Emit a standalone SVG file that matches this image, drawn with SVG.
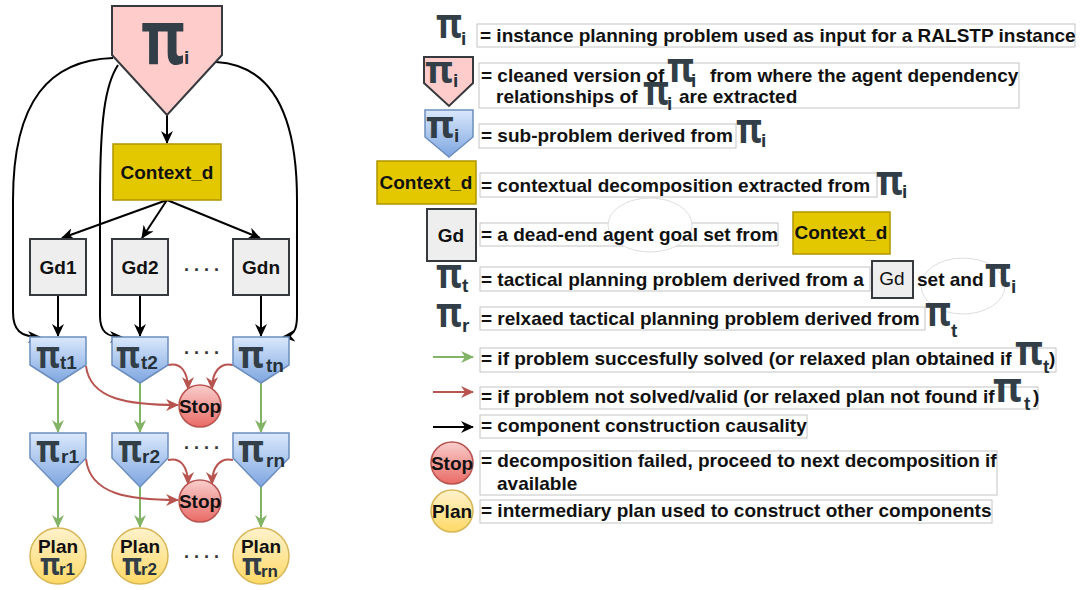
<svg xmlns="http://www.w3.org/2000/svg" width="1086" height="590" viewBox="0 0 1086 590">
  <defs>
    <linearGradient id="gBlue" x1="0" y1="0" x2="0" y2="1">
      <stop offset="0" stop-color="#dae8fc"/>
      <stop offset="1" stop-color="#7ea6e0"/>
    </linearGradient>
    <linearGradient id="gRed" x1="0" y1="0" x2="0" y2="1">
      <stop offset="0" stop-color="#f8cecc"/>
      <stop offset="1" stop-color="#ea6b66"/>
    </linearGradient>
    <linearGradient id="gYellow" x1="0" y1="0" x2="0" y2="1">
      <stop offset="0" stop-color="#fff2cc"/>
      <stop offset="1" stop-color="#ffd966"/>
    </linearGradient>
    <marker id="aBlack" viewBox="0 0 13 12" refX="12" refY="6" markerWidth="13" markerHeight="12" markerUnits="userSpaceOnUse" orient="auto">
      <path d="M0,0 L13,6 L0,12 L4,6 Z" fill="#000"/>
    </marker>
    <marker id="aGreen" viewBox="0 0 13 12" refX="12" refY="6" markerWidth="13" markerHeight="12" markerUnits="userSpaceOnUse" orient="auto">
      <path d="M0,0 L13,6 L0,12 L4,6 Z" fill="#82b366"/>
    </marker>
    <marker id="aRed" viewBox="0 0 13 12" refX="12" refY="6" markerWidth="13" markerHeight="12" markerUnits="userSpaceOnUse" orient="auto">
      <path d="M0,0 L13,6 L0,12 L4,6 Z" fill="#b85450"/>
    </marker>
  </defs>
  <style>
    .lbl { font-family: "Liberation Sans", Arial, sans-serif; font-weight: bold; font-size: 19px; fill: #111; }
    .mid { text-anchor: middle; }
    .sub { font-family: "Liberation Sans", Arial, sans-serif; font-weight: bold; font-size: 19px; fill: #26323a; }
    .sm { font-size: 17px; }
    .pi { font-family: "Noto Sans", "DejaVu Sans", sans-serif; font-weight: bold; fill: #333f48; }
    .dots { font-family: "Liberation Sans", Arial, sans-serif; font-weight: bold; font-size: 18px; fill: #333; }
    .box { fill: #fff; stroke: #c4c4c4; stroke-width: 1; }
    .pink { fill: #ffcccc; stroke: #36393d; stroke-width: 2; }
    .blue { fill: url(#gBlue); stroke: #6c8ebf; stroke-width: 1.5; }
    .ctx { fill: #e3c800; stroke: #b09500; stroke-width: 1.5; }
    .gd { fill: #eeeeee; stroke: #36393d; stroke-width: 2; }
    .stop { fill: url(#gRed); stroke: #b85450; stroke-width: 1.5; }
    .plan { fill: url(#gYellow); stroke: #d6b656; stroke-width: 1.5; }
    .cb { fill: none; stroke: #000; stroke-width: 2; marker-end: url(#aBlack); }
    .cg { fill: none; stroke: #82b366; stroke-width: 2; marker-end: url(#aGreen); }
    .cr { fill: none; stroke: #b85450; stroke-width: 2; marker-end: url(#aRed); }
    .cloud { fill: #fff; stroke: #dedede; stroke-width: 1; }
  </style>

  <!-- connectors -->
  <g id="connectors">
    <path class="cb" d="M167,115 L167,143"/>
    <path class="cb" d="M167,200 L62,238"/>
    <path class="cb" d="M167,200 L142,238"/>
    <path class="cb" d="M167,200 L260,238"/>
    <path class="cb" d="M58,295 L58,336"/>
    <path class="cb" d="M140,295 L140,336"/>
    <path class="cb" d="M261,295 L261,336"/>
    <path class="cb" d="M113,58 C50,60 13,100 13,200 L13,312 C13,330 20,337 40,337"/>
    <path class="cb" d="M118,65 C105,85 100,120 100,200 L100,316 C100,331 106,337 122,337"/>
    <path class="cb" d="M216,62 C270,65 297,110 297,200 L297,316 C297,331 293,336 283,337"/>
    <path class="cg" d="M58,383 L58,432"/>
    <path class="cg" d="M140,383 L140,432"/>
    <path class="cg" d="M261,383 L261,432"/>
    <path class="cg" d="M58,487 L58,527"/>
    <path class="cg" d="M140,487 L140,527"/>
    <path class="cg" d="M261,487 L261,527"/>
    <path class="cr" d="M86,366 C90,400 130,405 178,405"/>
    <path class="cr" d="M168,365 C181,362 188,372 188,389"/>
    <path class="cr" d="M233,365 C220,362 212,372 212,389"/>
    <path class="cr" d="M86,459 C90,495 130,500 178,500"/>
    <path class="cr" d="M168,460 C181,457 188,467 188,484"/>
    <path class="cr" d="M233,460 C220,457 212,467 212,484"/>
  </g>

  <!-- instance problem -->
  <g id="pi-i">
    <polygon class="pink" points="112,6 222,6 222,55 167,115 112,55"/>
    <text class="pi" x="141" y="64" font-size="75" textLength="44" lengthAdjust="spacingAndGlyphs">π</text>
    <text class="sub" x="184" y="64">i</text>
  </g>

  <g id="context-d">
    <rect class="ctx" x="113" y="144" width="108" height="56"/>
    <text class="lbl mid" x="167" y="179">Context_d</text>
  </g>

  <g id="gd1"><rect class="gd" x="30" y="239" width="56" height="56"/><text class="lbl mid" x="58" y="274">Gd1</text></g>
  <g id="gd2"><rect class="gd" x="112" y="239" width="56" height="56"/><text class="lbl mid" x="140" y="274">Gd2</text></g>
  <g id="gdn"><rect class="gd" x="233" y="239" width="56" height="56"/><text class="lbl mid" x="261" y="274">Gdn</text></g>
  <text class="dots" x="184" y="271">. . . .</text>

  <!-- tactical problems -->
  <g id="pt1">
    <polygon class="blue" points="30,337 86,337 86,365 58,383 30,365"/>
    <text class="pi" x="36" y="368" font-size="37" textLength="24" lengthAdjust="spacingAndGlyphs">π</text>
    <text class="sub" x="60" y="369">t1</text>
  </g>
  <g id="pt2">
    <polygon class="blue" points="112,337 168,337 168,365 140,383 112,365"/>
    <text class="pi" x="116" y="368" font-size="37" textLength="24" lengthAdjust="spacingAndGlyphs">π</text>
    <text class="sub" x="141" y="369">t2</text>
  </g>
  <g id="ptn">
    <polygon class="blue" points="233,337 289,337 289,365 261,383 233,365"/>
    <text class="pi" x="238" y="368" font-size="37" textLength="26" lengthAdjust="spacingAndGlyphs">π</text>
    <text class="sub" x="266" y="372">tn</text>
  </g>
  <text class="dots" x="184" y="354">. . . .</text>

  <g id="stop1">
    <circle class="stop" cx="200" cy="406" r="21"/>
    <text class="lbl mid" x="200" y="413">Stop</text>
  </g>

  <!-- relaxed problems -->
  <g id="pr1">
    <polygon class="blue" points="30,433 86,433 86,458 58,487 30,458"/>
    <text class="pi" x="36" y="462" font-size="37" textLength="24" lengthAdjust="spacingAndGlyphs">π</text>
    <text class="sub" x="61" y="463">r1</text>
  </g>
  <g id="pr2">
    <polygon class="blue" points="112,433 168,433 168,458 140,487 112,458"/>
    <text class="pi" x="118" y="462" font-size="37" textLength="24" lengthAdjust="spacingAndGlyphs">π</text>
    <text class="sub" x="142" y="463">r2</text>
  </g>
  <g id="prn">
    <polygon class="blue" points="233,433 289,433 289,458 261,487 233,458"/>
    <text class="pi" x="238" y="462" font-size="37" textLength="26" lengthAdjust="spacingAndGlyphs">π</text>
    <text class="sub" x="266" y="467">rn</text>
  </g>
  <text class="dots" x="184" y="449">. . . .</text>

  <g id="stop2">
    <circle class="stop" cx="200" cy="501" r="21"/>
    <text class="lbl mid" x="200" y="508">Stop</text>
  </g>

  <!-- plans -->
  <g id="plan1">
    <circle class="plan" cx="58" cy="556" r="28"/>
    <text class="lbl mid" x="58" y="553">Plan</text>
    <text class="pi" x="40" y="575" font-size="31" textLength="20" lengthAdjust="spacingAndGlyphs">π</text>
    <text class="sub sm" x="59" y="575">r1</text>
  </g>
  <g id="plan2">
    <circle class="plan" cx="140" cy="556" r="28"/>
    <text class="lbl mid" x="140" y="553">Plan</text>
    <text class="pi" x="122" y="575" font-size="31" textLength="20" lengthAdjust="spacingAndGlyphs">π</text>
    <text class="sub sm" x="141" y="575">r2</text>
  </g>
  <g id="plann">
    <circle class="plan" cx="261" cy="556" r="28"/>
    <text class="lbl mid" x="261" y="553">Plan</text>
    <text class="pi" x="242" y="575" font-size="31" textLength="20" lengthAdjust="spacingAndGlyphs">π</text>
    <text class="sub sm" x="261" y="577">rn</text>
  </g>
  <text class="dots" x="184" y="558">. . . .</text>

  <!-- legend -->
  <g id="legend">
    <!-- row 1 -->
    <text class="pi" x="436" y="38" font-size="42" textLength="26" lengthAdjust="spacingAndGlyphs">π</text>
    <text class="sub" x="461" y="45">i</text>
    <rect class="box" x="477" y="24" width="598" height="23"/>
    <text class="lbl" x="480" y="42">= instance planning problem used as input for a RALSTP instance</text>

    <!-- row 2 -->
    <polygon class="pink" points="424,57 473,57 473,83 449,106 424,83"/>
    <text class="pi" x="425" y="83" font-size="37" textLength="28" lengthAdjust="spacingAndGlyphs">π</text>
    <text class="sub" x="453" y="87">i</text>
    <rect class="box" x="479" y="63" width="540" height="45"/>
    <text class="lbl" x="481" y="82">= cleaned version of</text>
    <text class="pi" x="667" y="82" font-size="42" textLength="27" lengthAdjust="spacingAndGlyphs">π</text>
    <text class="sub" x="691" y="87">i</text>
    <text class="lbl" x="710" y="82">from where the agent dependency</text>
    <text class="lbl" x="496" y="103">relationships of</text>
    <text class="pi" x="643" y="105" font-size="42" textLength="26" lengthAdjust="spacingAndGlyphs">π</text>
    <text class="sub" x="667" y="110">i</text>
    <text class="lbl" x="679" y="103">are extracted</text>

    <!-- row 3 -->
    <polygon class="blue" points="425,110 473,110 473,137 449,157 425,137"/>
    <text class="pi" x="426" y="138" font-size="37" textLength="28" lengthAdjust="spacingAndGlyphs">π</text>
    <text class="sub" x="454" y="142">i</text>
    <rect class="box" x="479" y="124" width="257" height="24"/>
    <text class="lbl" x="481" y="142">= sub-problem derived from</text>
    <text class="pi" x="736" y="143" font-size="42" textLength="26" lengthAdjust="spacingAndGlyphs">π</text>
    <text class="sub" x="761" y="147">i</text>

    <!-- row 4 -->
    <rect class="ctx" x="377" y="161" width="99" height="43"/>
    <text class="lbl mid" x="426" y="189">Context_d</text>
    <rect class="box" x="480" y="173" width="397" height="24"/>
    <text class="lbl" x="481" y="192">= contextual decomposition extracted from</text>
    <text class="pi" x="876" y="195" font-size="42" textLength="27" lengthAdjust="spacingAndGlyphs">π</text>
    <text class="sub" x="902" y="198">i</text>

    <!-- row 5 -->
    <rect class="gd" x="427" y="209" width="49" height="52"/>
    <text class="lbl mid" x="451" y="242">Gd</text>
    <rect class="box" x="480" y="223" width="298" height="23"/>
    <ellipse class="cloud" cx="650" cy="225" rx="42" ry="27"/>
    <text class="lbl" x="481" y="241">= a dead-end agent goal set from</text>
    <rect class="ctx" x="793" y="212" width="97" height="42"/>
    <text class="lbl mid" x="841" y="239">Context_d</text>

    <!-- row 6 -->
    <text class="pi" x="436" y="288" font-size="42" textLength="26" lengthAdjust="spacingAndGlyphs">π</text>
    <text class="sub" x="462" y="292">t</text>
    <rect class="box" x="480" y="267" width="390" height="24"/>
    <text class="lbl" x="481" y="286">= tactical planning problem derived from a</text>
    <rect class="gd" x="872" y="261" width="41" height="37"/>
    <text class="mid" x="892" y="285" font-family="Liberation Sans, Arial, sans-serif" font-size="19" fill="#111">Gd</text>
    <ellipse class="cloud" cx="963" cy="286" rx="42" ry="28"/>
    <text class="lbl" x="917" y="286">set and</text>
    <text class="pi" x="985" y="287" font-size="42" textLength="26" lengthAdjust="spacingAndGlyphs">π</text>
    <text class="sub" x="1011" y="293">i</text>

    <!-- row 7 -->
    <text class="pi" x="436" y="327" font-size="42" textLength="26" lengthAdjust="spacingAndGlyphs">π</text>
    <text class="sub" x="462" y="332">r</text>
    <rect class="box" x="480" y="307" width="445" height="23"/>
    <text class="lbl" x="481" y="325">= relxaed tactical planning problem derived from</text>
    <text class="pi" x="925" y="326" font-size="42" textLength="26" lengthAdjust="spacingAndGlyphs">π</text>
    <text class="sub" x="951" y="337">t</text>

    <!-- row 8 -->
    <path class="cg" d="M433,357 L473,357"/>
    <rect class="box" x="480" y="348" width="576" height="24"/>
    <text class="lbl" x="481" y="365">= if problem succesfully solved (or relaxed plan obtained if</text>
    <text class="pi" x="1015" y="365" font-size="42" textLength="28" lengthAdjust="spacingAndGlyphs">π</text>
    <text class="sub" x="1043" y="373">t</text>
    <text class="lbl" x="1049" y="365">)</text>

    <!-- row 9 -->
    <path class="cr" d="M433,392 L473,392"/>
    <rect class="box" x="480" y="387" width="558" height="22"/>
    <text class="lbl" x="481" y="403">= if problem not solved/valid (or relaxed plan not found if</text>
    <text class="pi" x="993" y="402" font-size="42" textLength="29" lengthAdjust="spacingAndGlyphs">π</text>
    <text class="sub" x="1024" y="410">t</text>
    <text class="lbl" x="1033" y="403">)</text>

    <!-- row 10 -->
    <path class="cb" d="M433,427 L473,427"/>
    <rect class="box" x="480" y="415" width="327" height="23"/>
    <text class="lbl" x="481" y="432">= component construction causality</text>

    <!-- row 11 -->
    <circle class="stop" cx="452" cy="463" r="21"/>
    <text class="lbl mid" x="452" y="470">Stop</text>
    <rect class="box" x="480" y="451" width="517" height="44"/>
    <text class="lbl" x="481" y="467">= decomposition failed, proceed to next decomposition if</text>
    <text class="lbl" x="497" y="490">available</text>

    <!-- row 12 -->
    <circle class="plan" cx="452" cy="511" r="21"/>
    <text class="lbl mid" x="452" y="518">Plan</text>
    <rect class="box" x="480" y="500" width="512" height="23"/>
    <text class="lbl" x="481" y="517">= intermediary plan used to construct other components</text>
  </g>
</svg>
